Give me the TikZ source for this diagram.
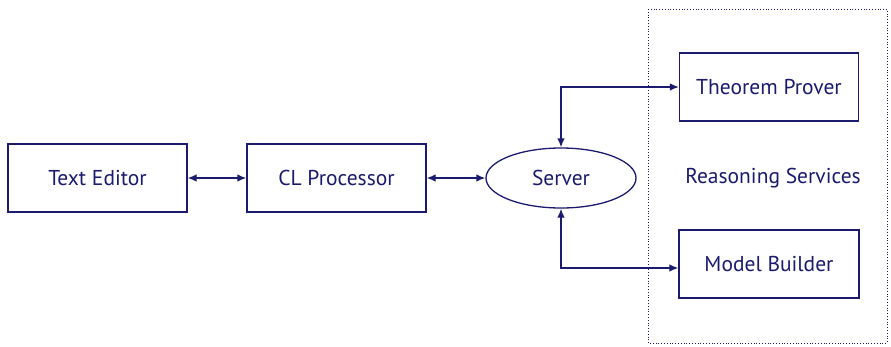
\documentclass[tikz,border=0pt]{standalone}
\usepackage{fontspec}
\setmainfont{PT Sans}
\usetikzlibrary{shapes.geometric,arrows.meta}
\definecolor{navy}{HTML}{1A1A6E}
\begin{document}
\begin{tikzpicture}[x=1pt,y=-1pt,
  every node/.style={text=navy,font=\fontsize{21.5}{24}\selectfont},
  box/.style={draw=navy,line width=1.3pt,minimum width=179pt,minimum height=68pt,inner sep=0pt},
  link/.style={draw=navy,line width=1.3pt,{Latex[length=9pt,width=7.5pt]}-{Latex[length=9pt,width=7.5pt]}}]
\useasboundingbox (0,0) rectangle (891,346);
% group frame
\draw[navy,dotted,line width=0.8pt] (648,9) rectangle (887,343);
\node[box] (te) at (97.5,178) {Text Editor};
\node[box] (cl) at (336.5,178) {CL Processor};
\node[draw=navy,line width=1.3pt,ellipse,minimum width=150pt,minimum height=60pt,inner sep=0pt] (sv) at (561,178) {Server};
\node[box] (tp) at (769,87) {Theorem Prover};
\node[box,minimum width=180pt] (mb) at (769,264) {Model Builder};
\node (rs) at (773,178) {Reasoning Services};
\draw[link] (te) -- (cl);
\draw[link] (cl) -- (sv);
\draw[link] (sv.north) |- (tp.west);
\draw[link] (sv.south) |- ([yshift=-4pt]mb.west);
\end{tikzpicture}
\end{document}
